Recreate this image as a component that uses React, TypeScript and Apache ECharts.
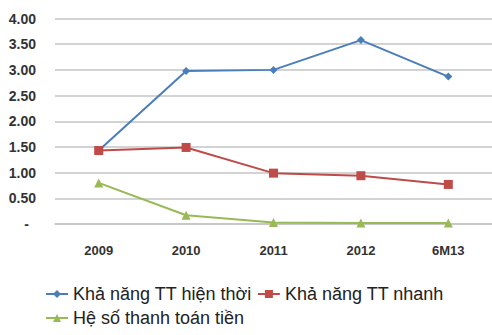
import React, { useEffect, useRef } from "react";
import * as echarts from "echarts";

const categories = ["2009", "2010", "2011", "2012", "6M13"];
const currentRatio = [1.43, 2.98, 3.0, 3.58, 2.87];
const quickRatio = [1.43, 1.49, 0.99, 0.94, 0.77];
const cashRatio = [0.8, 0.17, 0.03, 0.02, 0.02];
const seriesNames = ["Khả năng TT hiện thời", "Khả năng TT nhanh", "Hệ số thanh toán tiền"];

export default function App() {
  const ref = useRef<HTMLDivElement>(null);
  useEffect(() => {
    if (!ref.current) return;
    const chart = echarts.init(ref.current, undefined, { renderer: "svg" });
    const font = "'Liberation Sans', Arial, sans-serif";
    const legendText = { fontFamily: font, fontSize: 18, color: "#222" };
    chart.setOption({
      animation: false,
      backgroundColor: "#ffffff",
      grid: { left: 55, width: 442, top: 18.5, bottom: 111, containLabel: false },
      legend: [
        {
          data: [seriesNames[0], seriesNames[1]],
          left: 45,
          top: 285,
          padding: 0,
          itemWidth: 22,
          itemHeight: 10,
          itemGap: 5,
          textStyle: legendText,
        },
        {
          data: [seriesNames[2]],
          left: 45,
          top: 309,
          padding: 0,
          itemWidth: 22,
          itemHeight: 10,
          itemGap: 5,
          textStyle: legendText,
        },
      ],
      xAxis: {
        type: "category",
        data: categories,
        boundaryGap: true,
        axisLine: { show: true, lineStyle: { color: "#c4c4c4", width: 1.5 } },
        axisTick: { show: false },
        axisLabel: {
          fontFamily: font,
          fontSize: 13,
          fontWeight: "bold",
          color: "#333",
          margin: 20,
        },
      },
      yAxis: {
        type: "value",
        min: 0,
        max: 4,
        interval: 0.5,
        axisLine: { show: false },
        axisTick: { show: false },
        splitLine: { lineStyle: { color: "#c4c4c4", width: 1.5 } },
        axisLabel: {
          fontFamily: font,
          fontSize: 14,
          fontWeight: "bold",
          color: "#333",
          margin: 19,
          formatter: (v: number) => (v === 0 ? "{d|-}" : v.toFixed(2)),
          rich: {
            d: {
              fontFamily: font,
              fontSize: 14,
              fontWeight: "bold",
              color: "#333",
              padding: [0, 7, 0, 0],
            },
          },
        },
      },
      series: [
        {
          name: seriesNames[0],
          type: "line",
          data: currentRatio,
          symbol: "diamond",
          symbolSize: 8,
          lineStyle: { color: "#4a7ebb", width: 2 },
          itemStyle: { color: "#4a7ebb" },
        },
        {
          name: seriesNames[1],
          type: "line",
          data: quickRatio,
          symbol: "rect",
          symbolSize: 9,
          lineStyle: { color: "#be4b48", width: 2 },
          itemStyle: { color: "#be4b48" },
        },
        {
          name: seriesNames[2],
          type: "line",
          data: cashRatio,
          symbol: "triangle",
          symbolSize: 9,
          lineStyle: { color: "#98b954", width: 2 },
          itemStyle: { color: "#98b954" },
        },
      ],
    });
    return () => chart.dispose();
  }, []);
  return (
    <div
      ref={ref}
      style={{ position: "absolute", left: 0, top: 0, width: 492, height: 335 }}
    />
  );
}
